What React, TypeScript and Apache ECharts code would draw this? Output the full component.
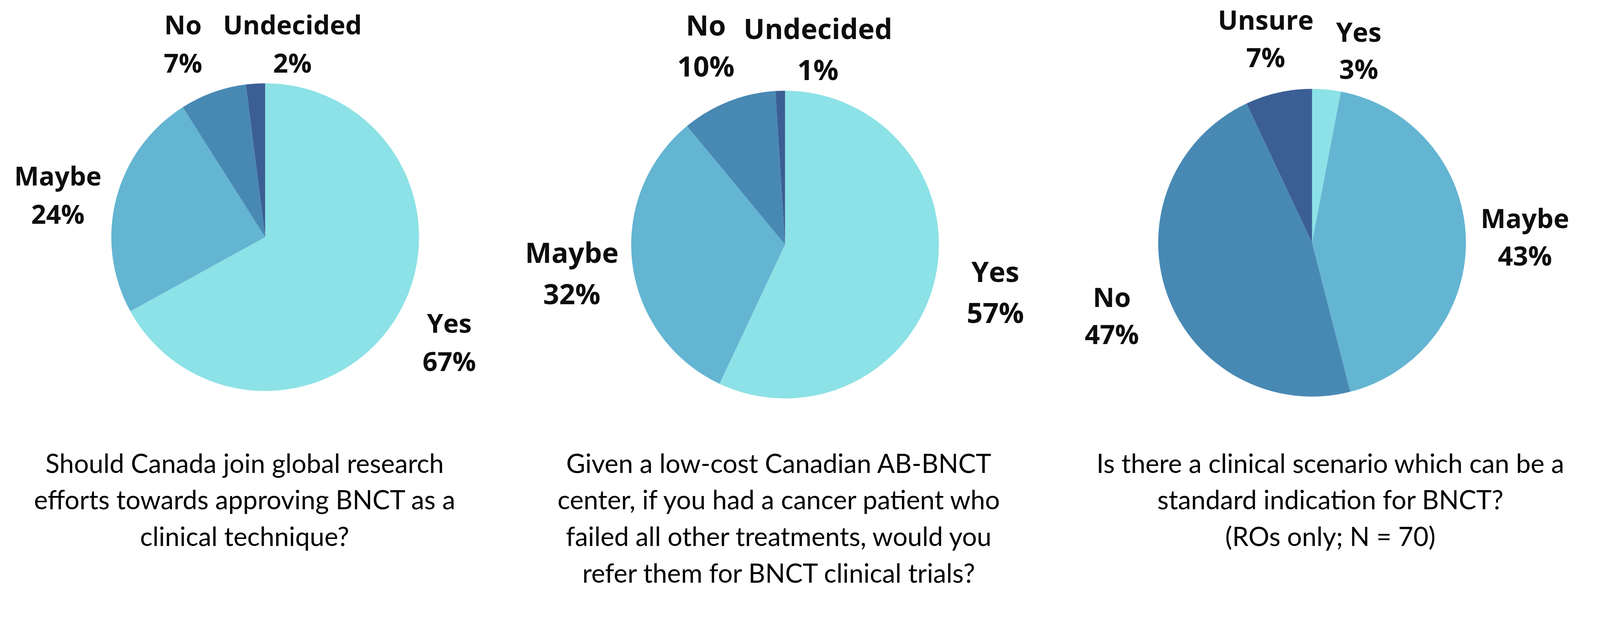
import React, { useEffect, useRef, useState } from "react";
import * as echarts from "echarts";

// ---- data ----
const CAT_A = ["Yes", "Maybe", "No", "Undecided"];
const VAL_A = [67, 24, 7, 2];
const CAT_B = ["Yes", "Maybe", "No", "Undecided"];
const VAL_B = [57, 32, 10, 1];
const CAT_C = ["Yes", "Maybe", "No", "Unsure"];
const VAL_C = [3, 43, 47, 7];

const CAPTIONS = [
  "Should Canada join global research\nefforts towards approving BNCT as a\nclinical technique?",
  "Given a low-cost Canadian AB-BNCT\ncenter, if you had a cancer patient who\nfailed all other treatments, would you\nrefer them for BNCT clinical trials?",
  "Is there a clinical scenario which can be a\nstandard indication for BNCT?\n(ROs only; N = 70)",
];

// ---- styling / layout (in reference pixels, 4284 x 1608) ----
const REF_W = 4284;
const REF_H = 1608;
const COLORS = ["#8CE2E6", "#64B5D2", "#4889B4", "#3B5F94"];
const PIE_CENTERS = [
  [710, 635],
  [2102, 655],
  [3513, 650],
];
const PIE_RADIUS = 412;
const LABEL_FONT = [70, 75, 71];
const LABEL_LH = [103, 110, 100];
const LABEL_POS = [
  [[1203, 915], [155, 521], [490, 116], [783, 116]],
  [[2665, 781], [1531, 730], [1890, 121], [2190, 130]],
  [[3638, 134], [4083, 633], [2977, 844], [3389, 102]],
];
const CAPTION_X = [655, 2085, 3562];
const CAPTION_TOP = 1190;
const CAPTION_FONT = 70;
const CAPTION_LH = 98;

export default function App() {
  const ref = useRef<HTMLDivElement>(null);
  const [size] = useState(() => {
    const w = window.innerWidth || REF_W;
    const h = window.innerHeight || REF_H;
    return { w, h };
  });

  useEffect(() => {
    document.body.style.margin = "0";
    document.body.style.overflow = "hidden";
    if (!ref.current) return;
    const s = Math.min(size.w / REF_W, size.h / REF_H);
    const chart = echarts.init(ref.current, undefined, { renderer: "svg" });

    const sets = [
      [CAT_A, VAL_A],
      [CAT_B, VAL_B],
      [CAT_C, VAL_C],
    ] as [string[], number[]][];

    const series = sets.map(([cats, vals], si) => ({
      type: "pie",
      center: [PIE_CENTERS[si][0] * s, PIE_CENTERS[si][1] * s],
      radius: PIE_RADIUS * s,
      startAngle: 90,
      clockwise: true,
      avoidLabelOverlap: false,
      silent: true,
      itemStyle: { borderWidth: 0 },
      label: {
        show: true,
        position: "outside",
        formatter: "{b}\n{c}%",
        fontFamily: "Open Sans",
        fontWeight: 700,
        fontSize: LABEL_FONT[si] * s,
        lineHeight: LABEL_LH[si] * s,
        color: "#0d0d0d",
        align: "center",
      },
      labelLine: { show: false },
      labelLayout: (p: any) => {
        const pos = LABEL_POS[si][p.dataIndex];
        return {
          x: pos[0] * s,
          y: pos[1] * s,
          align: "center",
          verticalAlign: "middle",
          hideOverlap: false,
        };
      },
      data: cats.map((c, i) => ({
        name: c,
        value: vals[i],
        itemStyle: { color: COLORS[i] },
      })),
    }));

    chart.setOption({
      animation: false,
      backgroundColor: "#ffffff",
      series,
      graphic: CAPTIONS.map((t, i) => ({
        type: "text",
        x: CAPTION_X[i] * s,
        y: CAPTION_TOP * s,
        style: {
          text: t,
          fontFamily: "Lato",
          fontSize: CAPTION_FONT * s,
          lineHeight: CAPTION_LH * s,
          fill: "#000000",
          textAlign: "center",
          textVerticalAlign: "top",
        },
      })),
    });

    return () => chart.dispose();
  }, [size]);

  return <div ref={ref} style={{ width: size.w, height: size.h }} />;
}
